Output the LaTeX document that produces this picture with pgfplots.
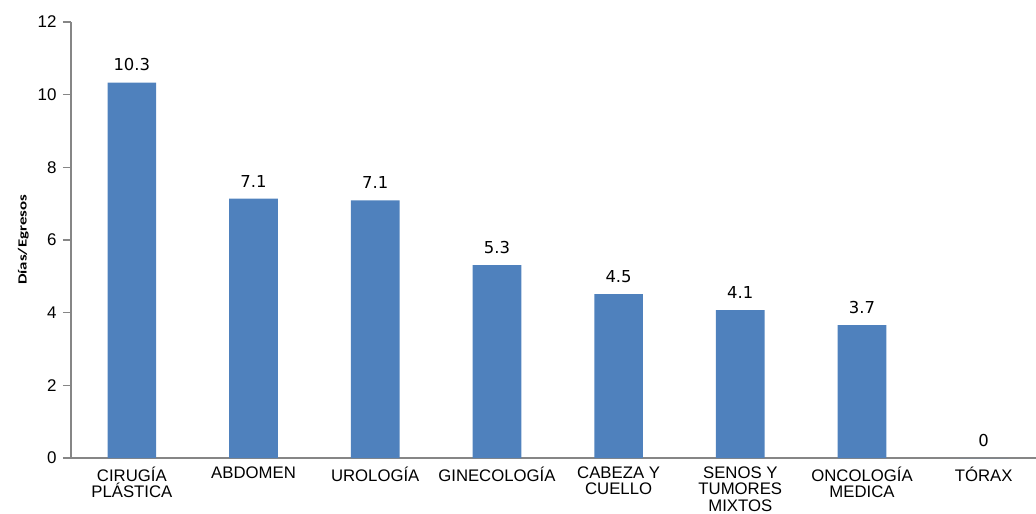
\documentclass[border=0pt]{standalone}
\usepackage{pgfplots}
\pgfplotsset{compat=1.18}
\usepackage{fontspec}
\setmainfont{Liberation Sans}
\newfontfamily\calib{Carlito}
\newfontfamily\dejavu{DejaVu Sans}
\definecolor{barblue}{RGB}{79,129,189}
\definecolor{axgray}{RGB}{134,134,134}
\begin{document}
\begin{tikzpicture}[x=1bp,y=1bp]
\useasboundingbox (-71bp,-56bp) rectangle (965bp,458bp);
\begin{axis}[
  at={(0,0)}, anchor=south west,
  scale only axis,
  width=965bp, height=436bp,
  ybar, bar width=0.40,
  xmin=-0.5, xmax=7.43,
  ymin=0, ymax=12,
  ytick={0,2,...,12},
  xtick=data,
  xticklabels={CIRUGÍA\\PLÁSTICA, ABDOMEN, UROLOGÍA, GINECOLOGÍA, CABEZA Y\\CUELLO, SENOS Y\\TUMORES\\MIXTOS, ONCOLOGÍA\\MEDICA, TÓRAX},
  x tick label style={align=center, font=\fontsize{16.8}{16.5}\selectfont, yshift=3pt},
  y tick label style={font=\fontsize{17}{17}\selectfont, xshift=-3pt},
  /pgf/number format/assume math mode=true,
  axis x line*=bottom, axis y line*=left,
  axis line style={axgray, line width=1.2pt},
  x axis line style={-}, y axis line style={-},
  major tick length=8bp,
  ytick style={axgray, line width=1.2pt},
  xtick style={draw=none},
  tick align=outside,
  ylabel={\scalebox{1.35}[1]{\calib\bfseries Días/Egresos}},
  ylabel style={font=\fontsize{12.5}{13}\selectfont},
  ylabel shift=2pt,
  nodes near coords,
  nodes near coords style={black, font=\dejavu\fontsize{16.5}{17}\selectfont, yshift=8bp},
  point meta=explicit symbolic,
]
\addplot[fill=barblue, draw=none] coordinates {
  (0,10.33) [10.3]
  (1,7.14) [7.1]
  (2,7.09) [7.1]
  (3,5.31) [5.3]
  (4,4.51) [4.5]
  (5,4.07) [4.1]
  (6,3.66) [3.7]
  (7,0) [0]
};
\end{axis}
\end{tikzpicture}
\end{document}
